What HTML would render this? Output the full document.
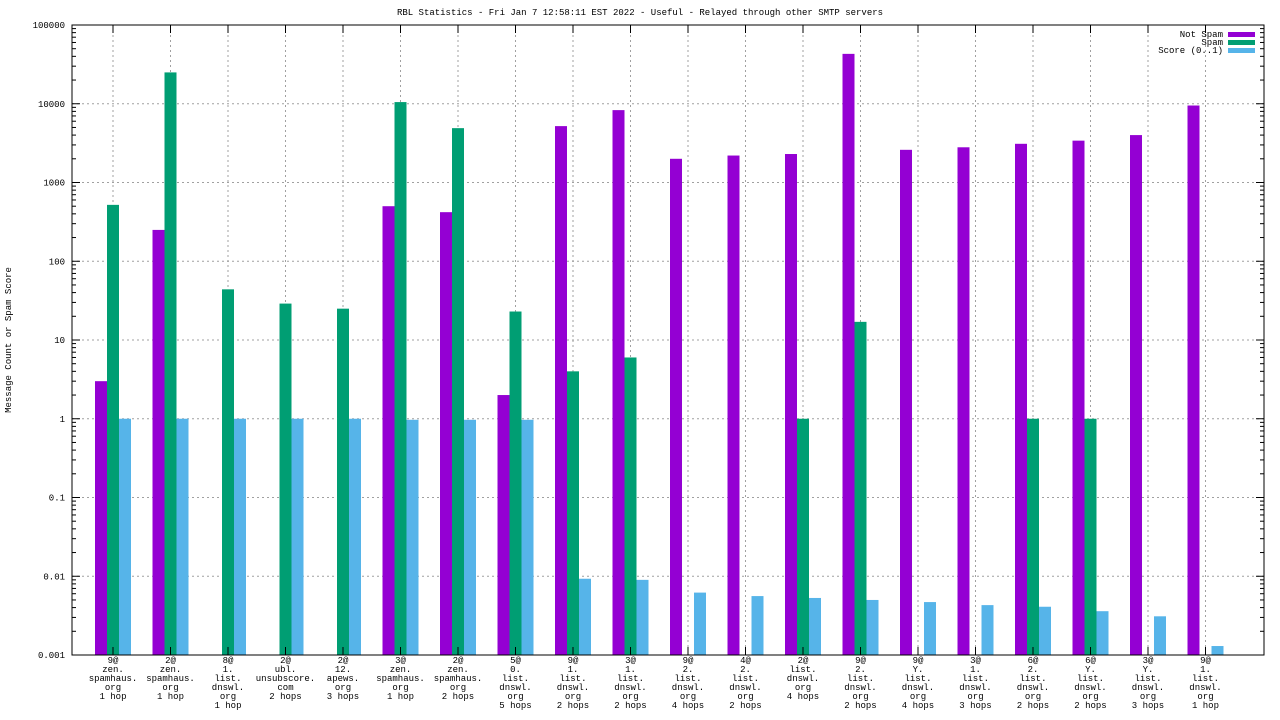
<!DOCTYPE html>
<html><head><meta charset="utf-8"><style>
html,body{margin:0;padding:0;background:#fff;}
svg{display:block;font-family:"Liberation Mono","DejaVu Sans Mono",monospace;}
</style></head><body>
<svg id="chart" width="1280" height="720" viewBox="0 0 1280 720" xmlns="http://www.w3.org/2000/svg">
<rect width="1280" height="720" fill="#fff"/>
<text x="640" y="15" text-anchor="middle" font-size="9">RBL Statistics - Fri Jan  7 12:58:11 EST 2022 - Useful - Relayed through other SMTP servers</text>
<text transform="translate(11,340) rotate(-90)" text-anchor="middle" font-size="9">Message Count or Spam Score</text>
<g id="grid"></g><g id="bars"></g><g id="axes"></g><g id="labels"></g>
<g>
<text x="1223" y="37" text-anchor="end" font-size="9">Not Spam</text>
<rect x="1228" y="32" width="27" height="5" fill="#9400d3"/>
<text x="1223" y="45" text-anchor="end" font-size="9">Spam</text>
<rect x="1228" y="40" width="27" height="5" fill="#009e73"/>
<text x="1223" y="53" text-anchor="end" font-size="9">Score (0..1)</text>
<rect x="1228" y="48" width="27" height="5" fill="#56b4e9"/>
</g>
</svg>
<script>
const categories = [
 ["9@","zen.","spamhaus.","org","1 hop"],
 ["2@","zen.","spamhaus.","org","1 hop"],
 ["8@","1.","list.","dnswl.","org","1 hop"],
 ["2@","ubl.","unsubscore.","com","2 hops"],
 ["2@","12.","apews.","org","3 hops"],
 ["3@","zen.","spamhaus.","org","1 hop"],
 ["2@","zen.","spamhaus.","org","2 hops"],
 ["5@","0.","list.","dnswl.","org","5 hops"],
 ["9@","1.","list.","dnswl.","org","2 hops"],
 ["3@","1.","list.","dnswl.","org","2 hops"],
 ["9@","2.","list.","dnswl.","org","4 hops"],
 ["4@","2.","list.","dnswl.","org","2 hops"],
 ["2@","list.","dnswl.","org","4 hops"],
 ["9@","2.","list.","dnswl.","org","2 hops"],
 ["9@","Y.","list.","dnswl.","org","4 hops"],
 ["3@","1.","list.","dnswl.","org","3 hops"],
 ["6@","2.","list.","dnswl.","org","2 hops"],
 ["6@","Y.","list.","dnswl.","org","2 hops"],
 ["3@","Y.","list.","dnswl.","org","3 hops"],
 ["9@","1.","list.","dnswl.","org","1 hop"]
];
const notSpam = [3,250,null,null,null,500,420,2,5200,8300,2000,2200,2300,43000,2600,2800,3100,3400,4000,9500];
const spam = [520,25000,44,29,25,10500,4900,23,4,6,null,null,1,17,null,null,1,1,null,null];
const score = [1,1,1,1,1,0.97,0.97,0.97,0.0093,0.009,0.0062,0.0056,0.0053,0.005,0.0047,0.0043,0.0041,0.0036,0.0031,0.0013];
const yTicks = [0.001,0.01,0.1,1,10,100,1000,10000,100000];
const yTickLabels = ["0.001","0.01","0.1","1","10","100","1000","10000","100000"];

const NS="http://www.w3.org/2000/svg";
const L=72,R=1264,T=25,B=655;
function y(v){return B-(Math.log10(v)+3)/8*(B-T);}
function xc(i){return 113+i*57.5;}
function mk(tag,attrs,parent){const e=document.createElementNS(NS,tag);for(const k in attrs)e.setAttribute(k,attrs[k]);document.getElementById(parent).appendChild(e);return e;}
yTicks.forEach((t,i)=>{
  const yy=y(t);
  if(i>0&&i<yTicks.length-1){const g=mk('line',{x1:L,x2:R,y1:yy,y2:yy,stroke:'#a0a0a0','stroke-dasharray':'2,3','stroke-width':1},'grid');
  
  }
  const tk=mk('line',{x1:L,x2:L+8,y1:yy,y2:yy,stroke:'#000'},'axes');
  
  
  const tk2=mk('line',{x1:R-8,x2:R,y1:yy,y2:yy,stroke:'#000'},'axes');
  
  
  const lb=mk('text',{x:65,y:yy+3,'text-anchor':'end','font-size':9},'axes');
  lb.textContent=yTickLabels[i];
  
  
  if(i<yTicks.length-1){for(let m=2;m<=9;m++){const my=y(t*m);
    const a=mk('line',{x1:L,x2:L+4,y1:my,y2:my,stroke:'#000'},'axes');
    
    
    const b=mk('line',{x1:R-4,x2:R,y1:my,y2:my,stroke:'#000'},'axes');
    
    }}
});
const series=[[notSpam,'#9400d3',-18,'bar-not-spam'],[spam,'#009e73',-6,'bar-spam'],[score,'#56b4e9',6,'bar-score']];
categories.forEach((c,i)=>{
  const cx=xc(i);
  const g=mk('line',{x1:cx,x2:cx,y1:T,y2:B,stroke:'#a0a0a0','stroke-dasharray':'2,3'},'grid');
  
  
  const tk=mk('line',{x1:cx,x2:cx,y1:B,y2:B-8,stroke:'#000'},'axes');
  
  
  const t2=mk('line',{x1:cx,x2:cx,y1:T,y2:T+8,stroke:'#000'},'axes');
  
  
  series.forEach(s=>{const v=s[0][i];if(v==null)return;
    const yy=y(v);
    const r=mk('rect',{x:cx+s[2],y:yy,width:12,height:B-yy,fill:s[1]},'bars');
    
    });
  const t=mk('text',{x:cx,y:B+8,'text-anchor':'middle','font-size':9},'labels');
  
  
  c.forEach((ln,j)=>{const sp=document.createElementNS(NS,'tspan');sp.setAttribute('x',cx);sp.setAttribute('y',B+8+j*9);sp.textContent=ln;t.appendChild(sp);});
});
const fr=mk('rect',{x:L,y:T,width:R-L,height:B-T,fill:'none',stroke:'#000'},'axes');


</script>
</body></html>
